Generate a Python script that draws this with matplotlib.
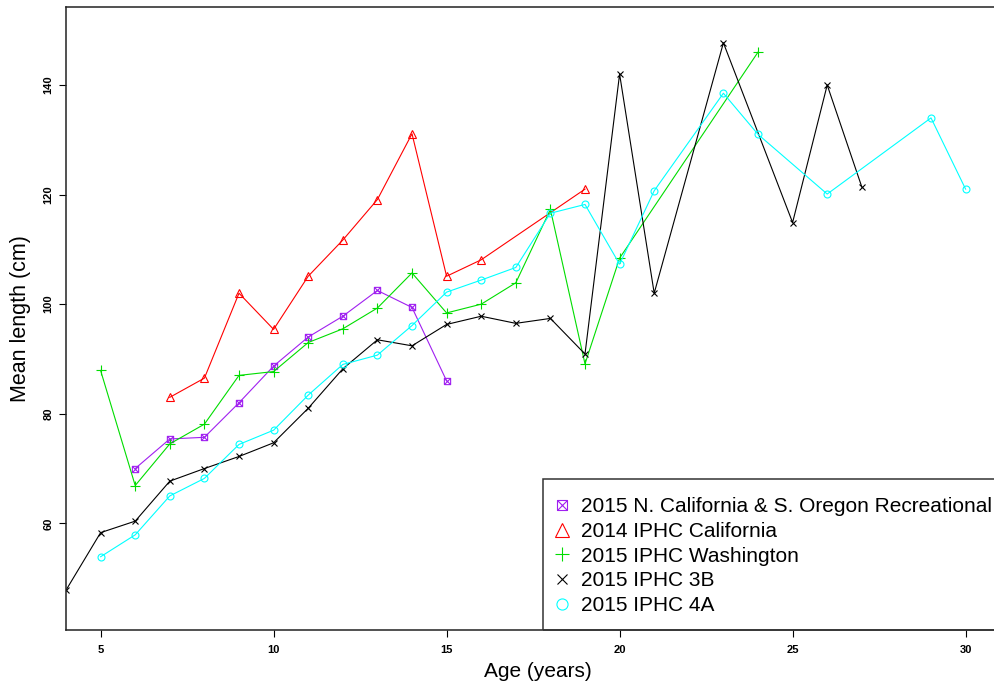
import matplotlib
matplotlib.use("Agg")
import matplotlib.pyplot as plt
from matplotlib.path import Path
from matplotlib.patches import Rectangle

plt.rcParams["font.family"] = ["Liberation Sans", "DejaVu Sans"]

# 2015 N. California & S. Oregon Recreational
rec_age = [6, 7, 8, 9, 10, 11, 12, 13, 14, 15]
rec_len = [70.0, 75.4, 75.7, 82.0, 88.7, 94.0, 97.8, 102.5, 99.4, 86.0]

# 2014 IPHC California
cal_age = [7, 8, 9, 10, 11, 12, 13, 14, 15, 16, 19]
cal_len = [83.0, 86.5, 102.0, 95.4, 105.1, 111.7, 119.1, 131.1, 105.1, 108.1, 121.0]

# 2015 IPHC Washington
wa_age = [5, 6, 7, 8, 9, 10, 11, 12, 13, 14, 15, 16, 17, 18, 19, 20, 24]
wa_len = [87.9, 66.9, 74.5, 78.1, 87.0, 87.7, 93.0, 95.5, 99.3, 105.7, 98.4,
          100.0, 103.9, 117.3, 89.1, 108.4, 146.0]

# 2015 IPHC 3B
b3_age = [4, 5, 6, 7, 8, 9, 10, 11, 12, 13, 14, 15, 16, 17, 18, 19, 20, 21,
          23, 25, 26, 27]
b3_len = [47.8, 58.3, 60.4, 67.7, 70.0, 72.2, 74.7, 81.0, 88.2, 93.5, 92.4,
          96.3, 97.8, 96.5, 97.4, 90.9, 142.0, 102.0, 147.7, 114.9, 140.0, 121.4]

# 2015 IPHC 4A
a4_age = [5, 6, 7, 8, 9, 10, 11, 12, 13, 14, 15, 16, 17, 18, 19, 20, 21, 23,
          24, 26, 29, 30]
a4_len = [53.9, 57.9, 65.0, 68.2, 74.4, 77.0, 83.4, 89.0, 90.7, 96.1, 102.2,
          104.4, 106.7, 116.6, 118.2, 107.3, 120.7, 138.5, 131.0, 120.1, 134.0, 121.0]

labels = ["2015 N. California & S. Oregon Recreational", "2014 IPHC California",
          "2015 IPHC Washington", "2015 IPHC 3B", "2015 IPHC 4A"]

# square with a cross inside (R pch 7)
boxx = Path([(-1, -1), (1, -1), (1, 1), (-1, 1), (-1, -1),
             (-1, -1), (1, 1), (-1, 1), (1, -1)],
            [Path.MOVETO, Path.LINETO, Path.LINETO, Path.LINETO, Path.LINETO,
             Path.MOVETO, Path.LINETO, Path.MOVETO, Path.LINETO])

W, H = 994, 683
fig = plt.figure(figsize=(W / 100, H / 100), dpi=100)
ax = fig.add_axes([66 / W, (H - 630) / H, (1010 - 66) / W, (630 - 7) / H])

series = [
    (rec_age, rec_len, "#A020F0", boxx, 4.5),
    (cal_age, cal_len, "#FF0000", "^", 6),
    (wa_age, wa_len, "#00DD00", "+", 6.5),
    (b3_age, b3_len, "#000000", "x", 4.5),
    (a4_age, a4_len, "#00FFFF", "o", 5),
]
handles = []
for (x, y, c, m, ms), lab in zip(series, labels):
    h, = ax.plot(x, y, color=c, lw=0.8, marker=m, ms=ms, mfc="none",
                 mec=c, mew=0.8, label=lab)
    handles.append(h)

ax.set_xlim(4, 4 + 944 / 34.6)
ax.set_ylim(40.53, 154.24)
ax.set_xticks([5, 10, 15, 20, 25, 30])
ax.set_yticks([60, 80, 100, 120, 140])
ax.tick_params(length=5, width=0.8, labelsize=8, pad=6)
ax.tick_params(axis="y", pad=4)
for t in ax.get_xticklabels():
    t.set_fontweight("bold")
for t in ax.get_yticklabels():
    t.set_fontweight("bold")
    t.set_rotation(90)
    t.set_va("center")
for s in ax.spines.values():
    s.set_linewidth(1.1)
    s.set_color("#222222")
ax.spines["right"].set_visible(False)

ax.set_xlabel("Age (years)", fontsize=15, labelpad=5)
ax.set_ylabel("Mean length (cm)", fontsize=15.5, labelpad=9)

fig.patches.append(Rectangle((543 / W, (H - 630) / H), (1010 - 543) / W,
                             (630 - 479) / H, transform=fig.transFigure,
                             fill=False, ec="#333333", lw=1.1))
leg = fig.legend(handles=[
    plt.Line2D([], [], ls="none", marker=h.get_marker(), ms=h.get_markersize(),
               mfc="none", mec=h.get_color(), mew=0.8) for h in handles],
    labels=labels, loc="upper left", bbox_to_anchor=(552 / W, (H - 497) / H),
    frameon=False, fontsize=15, markerscale=1.6, handlelength=0.95,
    handletextpad=0.45, labelspacing=0.28, borderpad=0, borderaxespad=0)

fig.savefig("out.png", dpi=100)
